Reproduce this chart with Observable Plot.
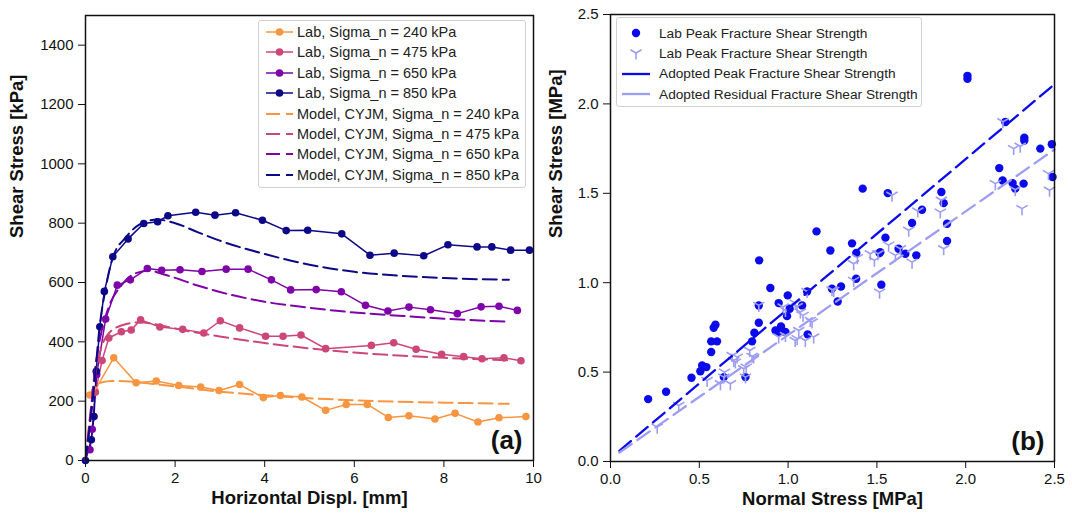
<!DOCTYPE html>
<html>
<head>
<meta charset="utf-8">
<script src="https://cdn.jsdelivr.net/npm/d3@7"></script>
<script src="https://cdn.jsdelivr.net/npm/@observablehq/plot@0.6"></script>
<style>
  html, body { margin: 0; padding: 0; background: #fff; }
  #wrap { position: relative; width: 1072px; height: 517px; overflow: hidden; font-family: "Liberation Sans", Arial, sans-serif; }
  .legend { position: absolute; background: rgba(255,255,255,0.85); border: 1px solid #d0d0d0; border-radius: 3px; box-sizing: border-box; }
  .legend .row { position: absolute; left: 0; height: 20px; display: flex; align-items: center; white-space: nowrap; color: #222; }
  .legend svg { display: block; }
</style>
</head>
<body>
<div id="wrap"></div>
<script>
// ---------- Panel (a): shear stress vs horizontal displacement ----------
const seriesNames = ["240", "475", "650", "850"];
const seriesColors = ["#f89540", "#cc4778", "#7e03a8", "#0d0887"];

const lab240X = [0.10, 0.21, 0.63, 1.13, 1.58, 2.08, 2.57, 2.98, 3.44, 3.97, 4.35, 4.83, 5.36, 5.82, 6.29, 6.76, 7.22, 7.80, 8.25, 8.76, 9.23, 9.83];
const lab240Y = [221, 236, 346, 262, 268, 253, 248, 236, 256, 212, 219, 214, 169, 189, 189, 145, 151, 140, 159, 130, 144, 148];

const lab475X = [0.22, 0.37, 0.52, 0.80, 1.02, 1.23, 1.66, 2.17, 2.64, 3.01, 3.44, 4.02, 4.41, 4.81, 5.36, 6.38, 6.88, 7.38, 7.95, 8.44, 8.85, 9.34, 9.72];
const lab475Y = [230, 337, 413, 434, 440, 474, 450, 442, 430, 471, 447, 419, 419, 423, 377, 388, 397, 375, 358, 350, 343, 346, 336];

const lab650X = [0.10, 0.15, 0.25, 0.45, 0.71, 1.00, 1.38, 1.70, 2.11, 2.60, 3.14, 3.63, 4.15, 4.58, 5.15, 5.71, 6.25, 6.75, 7.22, 7.70, 8.30, 8.83, 9.23, 9.64];
const lab650Y = [36, 105, 290, 477, 591, 609, 647, 641, 643, 637, 645, 645, 609, 575, 576, 569, 523, 504, 517, 508, 495, 518, 520, 506];

const lab850X = [0.00, 0.13, 0.19, 0.24, 0.32, 0.42, 0.61, 0.95, 1.30, 1.61, 1.84, 2.46, 2.89, 3.35, 3.95, 4.48, 4.96, 5.72, 6.35, 6.89, 7.55, 8.09, 8.74, 9.07, 9.49, 9.91];
const lab850Y = [0, 70, 148, 301, 451, 570, 687, 747, 799, 805, 825, 837, 827, 835, 810, 775, 776, 764, 692, 699, 690, 727, 720, 720, 709, 709];

const model240X = [0, 0.10, 0.20, 0.35, 0.60, 1.00, 1.50, 2.00, 3.00, 4.00, 5.00, 6.00, 7.00, 8.00, 9.45];
const model240Y = [0, 150, 238, 263, 268, 266, 258, 250, 232, 220, 210, 203, 198, 195, 191];

const model475X = [0, 0.10, 0.20, 0.35, 0.50, 0.80, 1.20, 1.60, 2.00, 3.00, 4.00, 5.00, 6.00, 7.00, 8.00, 9.45];
const model475Y = [0, 130, 270, 380, 425, 455, 466, 458, 445, 418, 396, 378, 364, 354, 346, 338];

const model650X = [0, 0.10, 0.20, 0.35, 0.50, 0.80, 1.10, 1.40, 1.80, 2.50, 3.00, 4.00, 5.00, 6.00, 7.00, 8.00, 9.45];
const model650Y = [0, 140, 290, 430, 510, 590, 630, 640, 625, 590, 568, 535, 515, 499, 488, 478, 468];

const model850X = [0, 0.10, 0.20, 0.30, 0.45, 0.60, 0.90, 1.20, 1.60, 2.00, 2.50, 3.00, 4.00, 5.00, 6.00, 7.00, 8.00, 9.45];
const model850Y = [0, 120, 260, 430, 580, 680, 752, 795, 812, 800, 770, 741, 696, 660, 636, 623, 615, 609];

const xTicksA = [0, 2, 4, 6, 8, 10];
const yTicksA = [0, 200, 400, 600, 800, 1000, 1200, 1400];

// ---------- Panel (b): shear stress vs normal stress ----------
const peakNormal = [0.212, 0.313, 0.456, 0.506, 0.516, 0.540, 0.567, 0.567, 0.600, 0.581, 0.591, 0.638, 0.760, 0.797, 0.810, 0.835, 0.835, 0.837, 0.900, 0.929, 0.947, 0.960, 0.985, 0.947, 0.998, 0.994, 1.009, 1.079, 1.107, 1.110, 1.160, 1.238, 1.247, 1.298, 1.279, 1.360, 1.383, 1.384, 1.420, 1.519, 1.515, 1.525, 1.548, 1.561, 1.622, 1.660, 1.698, 1.722, 1.754, 1.863, 1.876, 1.895, 1.895, 2.010, 2.010, 2.189, 2.208, 2.223, 2.264, 2.279, 2.326, 2.330, 2.330, 2.420, 2.485, 2.489];
const peakShear  = [0.349, 0.390, 0.468, 0.505, 0.537, 0.528, 0.612, 0.672, 0.672, 0.748, 0.765, 0.472, 0.472, 0.672, 0.720, 0.776, 0.873, 1.125, 0.970, 0.733, 0.724, 0.755, 0.724, 0.886, 0.929, 0.813, 0.854, 0.873, 0.951, 0.711, 1.287, 1.180, 0.966, 0.979, 0.895, 1.220, 1.022, 1.166, 1.526, 1.171, 1.166, 0.989, 1.252, 1.501, 1.190, 1.162, 1.334, 1.153, 1.408, 1.507, 1.445, 1.330, 1.233, 2.157, 2.140, 1.641, 1.572, 1.899, 1.557, 1.526, 1.554, 1.811, 1.795, 1.750, 1.774, 1.591];

const resNormal = [0.263, 0.384, 0.544, 0.619, 0.638, 0.675, 0.642, 0.703, 0.713, 0.685, 0.694, 0.750, 0.760, 0.764, 0.784, 0.797, 0.806, 0.835, 0.947, 0.985, 1.040, 1.051, 1.060, 1.097, 1.144, 1.135, 1.125, 1.084, 1.069, 1.051, 0.985, 1.041, 0.972, 1.107, 1.247, 1.257, 1.369, 1.369, 1.390, 1.463, 1.486, 1.506, 1.515, 1.566, 1.585, 1.604, 1.632, 1.679, 1.698, 1.730, 1.857, 1.863, 1.876, 2.167, 2.210, 2.270, 2.307, 2.279, 2.317, 2.466, 2.472];
const resShear  = [0.192, 0.313, 0.453, 0.435, 0.472, 0.435, 0.500, 0.556, 0.584, 0.593, 0.565, 0.519, 0.472, 0.528, 0.621, 0.588, 0.584, 0.873, 0.696, 0.705, 0.677, 0.687, 0.733, 0.677, 0.696, 0.780, 0.789, 0.817, 0.836, 0.867, 0.845, 0.886, 0.864, 0.951, 0.960, 0.957, 1.013, 1.106, 1.140, 1.162, 1.125, 1.162, 0.947, 1.210, 1.489, 1.153, 1.190, 1.293, 1.115, 1.401, 1.395, 1.461, 1.190, 1.554, 1.900, 1.750, 1.763, 1.520, 1.414, 1.610, 1.517];

const lineNormal = [0.05, 2.50];
const peakLineShear = [0.06, 2.11];
const resLineShear = [0.05, 1.745];

const xTicksB = [0, 0.5, 1.0, 1.5, 2.0, 2.5];
const yTicksB = [0, 0.5, 1.0, 1.5, 2.0, 2.5];

const peakColor = "#0a0aea";
const resColor = "#9d9df3";

// ---------- build tables ----------
const labSets = [[lab240X, lab240Y], [lab475X, lab475Y], [lab650X, lab650Y], [lab850X, lab850Y]];
const modelSets = [[model240X, model240Y], [model475X, model475Y], [model650X, model650Y], [model850X, model850Y]];
const labRows = [], modelRows = [];
labSets.forEach(([xs, ys], i) => xs.forEach((x, j) => labRows.push({series: seriesNames[i], x, y: ys[j]})));
modelSets.forEach(([xs, ys], i) => xs.forEach((x, j) => modelRows.push({series: seriesNames[i], x, y: ys[j]})));
const peakRows = peakNormal.map((x, i) => ({x, y: peakShear[i]}));
const resRows = resNormal.map((x, i) => ({x, y: resShear[i]}));
const peakLine = lineNormal.map((x, i) => ({x, y: peakLineShear[i]}));
const resLine = lineNormal.map((x, i) => ({x, y: resLineShear[i]}));

const triDown = {
  draw(ctx, size) {
    const r = Math.sqrt(size / Math.PI);
    ctx.moveTo(0, 0); ctx.lineTo(0, r);
    ctx.moveTo(0, 0); ctx.lineTo(-0.866 * r, -0.5 * r);
    ctx.moveTo(0, 0); ctx.lineTo(0.866 * r, -0.5 * r);
  }
};

const baseStyle = {fontFamily: "'Liberation Sans', Arial, sans-serif", fontSize: "15px", color: "#111", background: "transparent", overflow: "visible"};
const titleFont = {fontSize: 18.5, fontWeight: "bold", fill: "#111"};
const panelFont = {fontSize: 26, fontWeight: "bold", fill: "#111", textAnchor: "end", lineAnchor: "middle"};

const plotA = Plot.plot({
  width: 545, height: 517,
  marginLeft: 85, marginRight: 12, marginTop: 15, marginBottom: 57,
  style: baseStyle,
  x: {domain: [0, 10]},
  y: {domain: [0, 1500]},
  color: {domain: seriesNames, range: seriesColors},
  marks: [
    Plot.axisX({ticks: xTicksA, tickFormat: d => String(d), tickSize: 7, tickPadding: 5, label: null, stroke: "#111"}),
    Plot.axisY({ticks: yTicksA, tickFormat: d => String(d), tickSize: 7, tickPadding: 5, label: null, stroke: "#111"}),
    Plot.line(labRows, {x: "x", y: "y", z: "series", stroke: "series", strokeWidth: 1.5}),
    Plot.dot(labRows, {x: "x", y: "y", fill: "series", r: 3.8}),
    Plot.line(modelRows, {x: "x", y: "y", z: "series", stroke: "series", strokeWidth: 2, strokeDasharray: "14,6", curve: "monotone-x"}),
    Plot.frame({stroke: "#111", strokeWidth: 1.5}),
    Plot.text(["Shear Stress [kPa]"], {frameAnchor: "left", dx: -68, rotate: -90, ...titleFont}),
    Plot.text(["Horizontal Displ. [mm]"], {frameAnchor: "bottom", dy: 43, ...titleFont}),
    Plot.text(["(a)"], {frameAnchor: "bottom-right", dx: -11, dy: -20, ...panelFont})
  ]
});

const plotB = Plot.plot({
  width: 527, height: 517,
  marginLeft: 65, marginRight: 18, marginTop: 14, marginBottom: 56,
  style: baseStyle,
  x: {domain: [0, 2.5]},
  y: {domain: [0, 2.5]},
  marks: [
    Plot.axisX({ticks: xTicksB, tickFormat: d3.format(".1f"), tickSize: 7, tickPadding: 5, label: null, stroke: "#111"}),
    Plot.axisY({ticks: yTicksB, tickFormat: d3.format(".1f"), tickSize: 7, tickPadding: 5, label: null, stroke: "#111"}),
    Plot.dot(peakRows, {x: "x", y: "y", fill: peakColor, r: 4.2}),
    Plot.dot(resRows, {x: "x", y: "y", symbol: triDown, stroke: resColor, fill: "none", strokeWidth: 1.6, r: 6.5}),
    Plot.line(peakLine, {x: "x", y: "y", stroke: peakColor, strokeWidth: 2.3, strokeDasharray: "15,7"}),
    Plot.line(resLine, {x: "x", y: "y", stroke: resColor, strokeWidth: 2.3, strokeDasharray: "15,7"}),
    Plot.frame({stroke: "#111", strokeWidth: 1.5}),
    Plot.text(["Shear Stress [MPa]"], {frameAnchor: "left", dx: -54, rotate: -90, ...titleFont}),
    Plot.text(["Normal Stress [MPa]"], {frameAnchor: "bottom", dy: 43, ...titleFont}),
    Plot.text(["(b)"], {frameAnchor: "bottom-right", dx: -10, dy: -20, ...panelFont})
  ]
});

const wrap = document.getElementById("wrap");
plotA.style.position = "absolute"; plotA.style.left = "0px"; plotA.style.top = "0px";
plotB.style.position = "absolute"; plotB.style.left = "545px"; plotB.style.top = "0px";
wrap.appendChild(plotA);
wrap.appendChild(plotB);

// ---------- legends ----------
function makeLegend(left, top, width, height) {
  const div = document.createElement("div");
  div.className = "legend";
  Object.assign(div.style, {left: left + "px", top: top + "px", width: width + "px", height: height + "px"});
  wrap.appendChild(div);
  return div;
}
function addRow(legend, y, swatchSvg, text, textLeft, fontSize) {
  const row = document.createElement("div");
  row.className = "row";
  row.style.top = (y - 10) + "px";
  row.style.fontSize = fontSize + "px";
  row.innerHTML = swatchSvg;
  const span = document.createElement("span");
  span.textContent = text;
  span.style.position = "absolute";
  span.style.left = textLeft + "px";
  row.appendChild(span);
  legend.appendChild(row);
}
const legA = makeLegend(258, 20, 268, 168);
const labelsA = [
  ...seriesNames.map((s, i) => ({text: `Lab, Sigma_n = ${s} kPa`, color: seriesColors[i], lab: true})),
  ...seriesNames.map((s, i) => ({text: `Model, CYJM, Sigma_n = ${s} kPa`, color: seriesColors[i], lab: false}))
];
labelsA.forEach((d, i) => {
  const sw = d.lab
    ? `<svg width="40" height="20"><line x1="7" x2="34" y1="10" y2="10" stroke="${d.color}" stroke-width="1.5"/><circle cx="20.5" cy="10" r="3.8" fill="${d.color}"/></svg>`
    : `<svg width="40" height="20"><line x1="7" x2="34" y1="10" y2="10" stroke="${d.color}" stroke-width="2" stroke-dasharray="14,6"/></svg>`;
  addRow(legA, 11 + i * 20.4, sw, d.text, 38, 14.5);
});

const legB = makeLegend(616, 17, 306, 90);
const labelsB = [
  {text: "Lab Peak Fracture Shear Strength", sw: `<svg width="40" height="20"><circle cx="19" cy="10" r="4.2" fill="${peakColor}"/></svg>`},
  {text: "Lab Peak Fracture Shear Strength", sw: `<svg width="40" height="20"><path d="M19,10L19,16.5M19,10L13.4,6.75M19,10L24.6,6.75" stroke="${resColor}" stroke-width="1.6" fill="none"/></svg>`},
  {text: "Adopted Peak Fracture Shear Strength", sw: `<svg width="40" height="20"><line x1="5" x2="33" y1="10" y2="10" stroke="${peakColor}" stroke-width="2.3"/></svg>`},
  {text: "Adopted Residual Fracture Shear Strength", sw: `<svg width="40" height="20"><line x1="5" x2="33" y1="10" y2="10" stroke="${resColor}" stroke-width="2.3"/></svg>`}
];
labelsB.forEach((d, i) => addRow(legB, 15 + i * 20.4, d.sw, d.text, 42, 13.7));
</script>
</body>
</html>
